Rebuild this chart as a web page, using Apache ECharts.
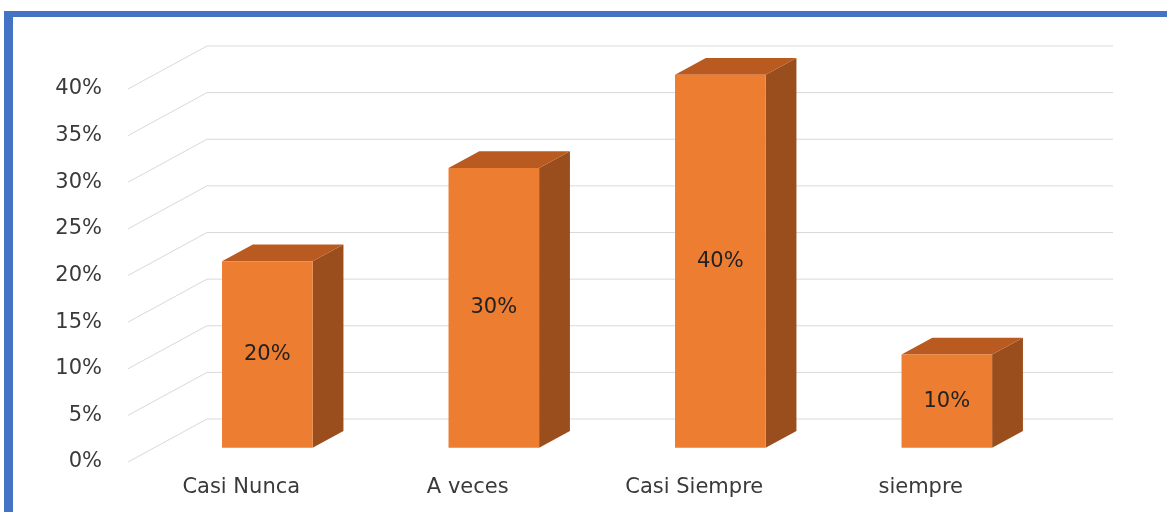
<!DOCTYPE html>
<html>
<head>
<meta charset="utf-8">
<script src="https://cdn.jsdelivr.net/npm/echarts@6/dist/echarts.min.js"></script>
<style>
  html, body { margin: 0; padding: 0; background: #fff; }
  #chart { width: 1167px; height: 512px; position: relative; }
  .frame-top { position: absolute; left: 4px; top: 11px; right: 0; height: 6px; background: #4472C4; }
  .frame-left { position: absolute; left: 4px; top: 11px; bottom: 0; width: 9px; background: #4472C4; }
</style>
</head>
<body>
<div id="chart"></div>
<div class="frame-top"></div>
<div class="frame-left"></div>
<script>
// Survey answers and their share of responses
const categories = ['Casi Nunca', 'A veces', 'Casi Siempre', 'siempre'];
const shares = [0.20, 0.30, 0.40, 0.10];
const tickValues = [0, 0.05, 0.10, 0.15, 0.20, 0.25, 0.30, 0.35, 0.40];

// Perspective depth: offset from the front plane to the back wall
const DEPTH_X = 79;
const DEPTH_Y = -43;
const BAR_FRONT = 0.33;   // fraction of depth where the bar front face sits
const BAR_BACK = 0.72;    // fraction of depth where the bar back face sits
const BAR_RATIO = 0.40;   // bar width relative to category band

const pct = v => Math.round(v * 100) + '%';
const FONT = 'DejaVu Sans, Verdana, sans-serif';
const FONT_SIZE = 21;

const chart = echarts.init(document.getElementById('chart'));

function gridLines(params, api) {
  const v = api.value(0);
  const cs = params.coordSys;
  const y = api.coord([0, v])[1];
  const x0 = cs.x;
  const x1 = cs.x + cs.width;
  return {
    type: 'polyline',
    shape: { points: [[x0, y], [x0 + DEPTH_X, y + DEPTH_Y], [x1 + DEPTH_X, y + DEPTH_Y]] },
    style: { stroke: '#D9D9D9', lineWidth: 1, fill: null },
    silent: true
  };
}

function bar3d(params, api) {
  const idx = api.value(0);
  const v = api.value(1);
  const top = api.coord([idx, v]);
  const base = api.coord([idx, 0]);
  const band = api.size([1, 0])[0];
  const w = band * BAR_RATIO;
  const fx = DEPTH_X * BAR_FRONT, fy = DEPTH_Y * BAR_FRONT;
  const dx = DEPTH_X * (BAR_BACK - BAR_FRONT), dy = DEPTH_Y * (BAR_BACK - BAR_FRONT);
  const L = top[0] - w / 2 + fx;
  const R = top[0] + w / 2 + fx;
  const T = top[1] + fy;
  const B = base[1] + fy;
  return {
    type: 'group',
    children: [
      {
        type: 'polygon',
        shape: { points: [[R, T], [R + dx, T + dy], [R + dx, B + dy], [R, B]] },
        style: { fill: '#9A4D1D' }
      },
      {
        type: 'polygon',
        shape: { points: [[L, T], [R, T], [R + dx, T + dy], [L + dx, T + dy]] },
        style: { fill: '#B95A20' }
      },
      {
        type: 'rect',
        shape: { x: L, y: T, width: R - L, height: B - T },
        style: { fill: '#ED7D31' }
      },
      {
        type: 'text',
        x: (L + R) / 2,
        y: (T + B) / 2,
        style: {
          text: pct(v),
          fill: '#222222',
          font: FONT_SIZE + 'px ' + FONT,
          align: 'center',
          verticalAlign: 'middle'
        }
      }
    ]
  };
}

chart.setOption({
  animation: false,
  backgroundColor: '#ffffff',
  grid: { left: 128, right: 133, top: 89, bottom: 50 },
  xAxis: {
    type: 'category',
    data: categories,
    axisLine: { show: false },
    axisTick: { show: false },
    axisLabel: { color: '#3A3A3A', fontSize: FONT_SIZE, fontFamily: FONT, margin: 15 }
  },
  yAxis: {
    type: 'value',
    min: 0,
    max: 0.4,
    interval: 0.05,
    axisLine: { show: false },
    axisTick: { show: false },
    splitLine: { show: false },
    axisLabel: {
      color: '#3A3A3A', fontSize: FONT_SIZE, fontFamily: FONT, margin: 26,
      formatter: v => pct(v)
    }
  },
  series: [
    {
      type: 'custom',
      renderItem: gridLines,
      data: tickValues.map(v => [v]),
      encode: { y: 0 },
      z: 1,
      silent: true
    },
    {
      type: 'custom',
      renderItem: bar3d,
      data: shares.map((v, i) => [i, v]),
      encode: { x: 0, y: 1 },
      z: 2
    }
  ]
});
</script>
</body>
</html>
